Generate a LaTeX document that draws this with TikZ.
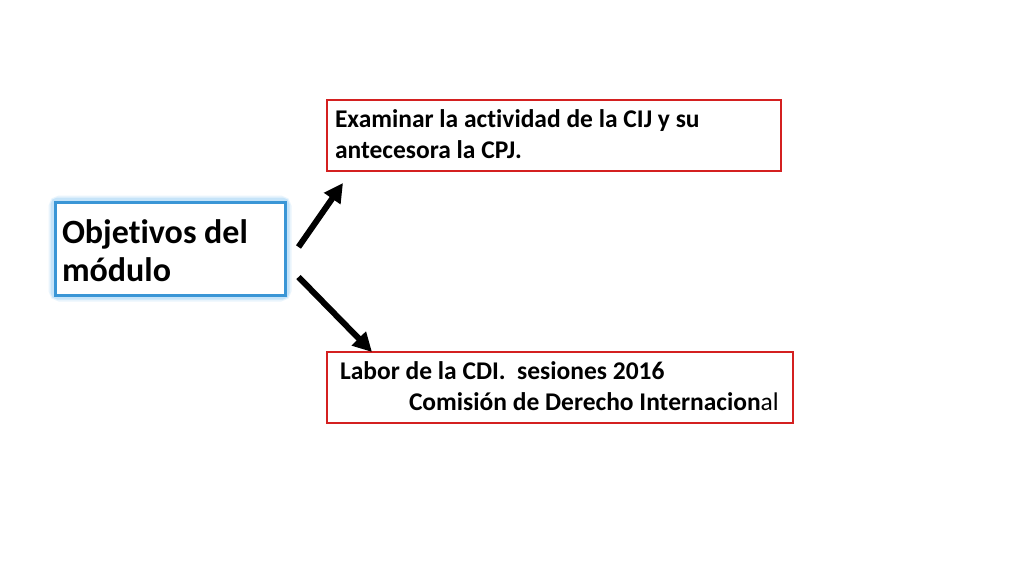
\documentclass[tikz,border=0pt]{standalone}
\usepackage{fontspec}
\setmainfont{Carlito}[Ligatures={NoCommon}]
\usetikzlibrary{arrows.meta}
\definecolor{boxred}{HTML}{D42020}
\definecolor{glowblue}{HTML}{B8DEF8}
\definecolor{edgeblue}{HTML}{3A96D6}
\newcommand{\normspace}{\spaceskip=0pt\xspaceskip=0pt\noindent}
\tikzset{
  redbox/.style={draw=boxred, line width=2pt, fill=white, inner ysep=0pt},
  bigarrow/.style={line width=6pt, draw=black, -{Triangle[length=19pt,width=19pt]}},
  txt/.style={font=\bfseries\fontsize{25.5}{31.2}\selectfont}
}
\begin{document}
\begin{tikzpicture}[x=1pt,y=-1pt]
\useasboundingbox (0,0) rectangle (1024,576);
\fill[white] (0,0) rectangle (1024,576);
% glow of the left box
\draw[glowblue, line width=9pt, rounded corners=3pt] (55,202) rectangle (285,295);
\draw[glowblue!60, line width=13pt, opacity=0.5, rounded corners=5pt] (55,202) rectangle (285,295);
\node[draw=edgeblue, line width=3pt, fill=white, minimum width=230pt, minimum height=93pt,
      text width=216pt, inner xsep=7pt, inner ysep=0pt,
      text height=27pt, text depth=38pt,
      font=\bfseries\fontsize{34}{38}\selectfont] (obj) at (170,248.5)
      {\normspace Objetivos del\\módulo};
\node[redbox, txt, minimum width=454pt, minimum height=71pt, text width=438pt, inner xsep=8pt,
      text height=14pt, text depth=31pt]
      (top) at (554,135.5)
      {\normspace Examinar la actividad de la CIJ y su\\antecesora la CPJ.};
\node[redbox, txt, minimum width=466pt, minimum height=71pt, text width=440pt, inner xsep=13pt,
      text height=14.6pt, text depth=31pt]
      (bot) at (560,387.5)
      {\normspace Labor de la CDI.\ \ sesiones 2016\\\hspace*{69pt}Comisión de Derecho Internacion{\mdseries al}};
\coordinate (a1s) at ([shift={(12,-1.5)}]obj.east);
\coordinate (a1e) at ([shift={(17,11)}]top.south west);
\coordinate (a2s) at ([shift={(12,28.5)}]obj.east);
\coordinate (a2e) at ([shift={(46,1)}]bot.north west);
\draw[bigarrow] (a1s) -- (a1e);
\draw[bigarrow] (a2s) -- (a2e);
\end{tikzpicture}
\end{document}
